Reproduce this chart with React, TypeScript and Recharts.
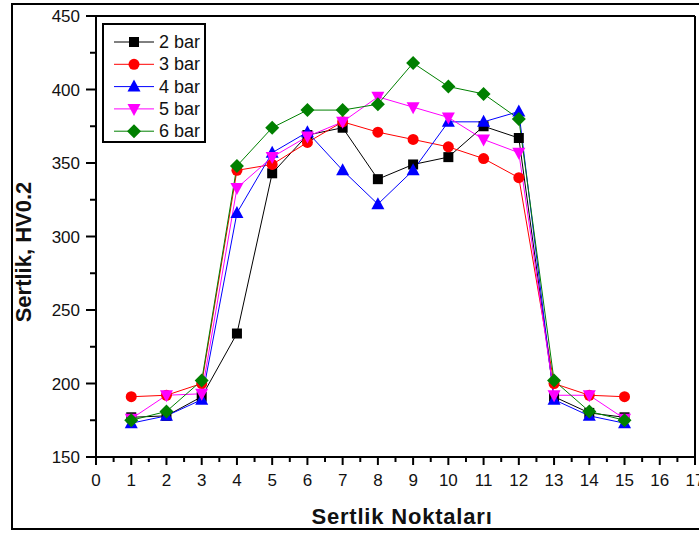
import React from 'react'
import { LineChart, Line, XAxis, YAxis, ReferenceLine } from 'recharts'

const points = [1, 2, 3, 4, 5, 6, 7, 8, 9, 10, 11, 12, 13, 14, 15]
const bar2 = [177, 178, 191, 234, 343, 369, 374, 339, 349, 354, 375, 367, 191, 180, 177]
const bar3 = [191, 192, 200, 345, 349, 364, 378, 371, 366, 361, 353, 340, 200, 192, 191]
const bar4 = [173, 178, 189, 316, 357, 371, 345, 322, 345, 378, 378, 385, 189, 178, 173]
const bar5 = [176, 192, 193, 333, 354, 368, 378, 395, 388, 381, 366, 357, 192, 192, 176]
const bar6 = [175, 181, 202, 348, 374, 386, 386, 390, 418, 402, 397, 380, 202, 181, 175]

const xTicks = Array.from({ length: 35 }, (_, i) => i / 2)
const yTicks = [150, 175, 200, 225, 250, 275, 300, 325, 350, 375, 400, 425, 450]

const FONT = '"Liberation Sans", Arial, sans-serif'

type Shape = 'square' | 'circle' | 'up' | 'down' | 'diamond'

const seriesList: { key: string; name: string; color: string; shape: Shape; values: number[] }[] = [
  { key: 'b2', name: '2 bar', color: '#000000', shape: 'square', values: bar2 },
  { key: 'b3', name: '3 bar', color: '#ff0000', shape: 'circle', values: bar3 },
  { key: 'b4', name: '4 bar', color: '#0000ff', shape: 'up', values: bar4 },
  { key: 'b5', name: '5 bar', color: '#ff00ff', shape: 'down', values: bar5 },
  { key: 'b6', name: '6 bar', color: '#008000', shape: 'diamond', values: bar6 },
]

const data = points.map((p, i) => {
  const row: Record<string, number> = { x: p }
  seriesList.forEach((s) => {
    row[s.key] = s.values[i]
  })
  return row
})

function Marker({ cx, cy, shape, color }: { cx: number; cy: number; shape: Shape; color: string }) {
  if (shape === 'square') return <rect x={cx - 5} y={cy - 5} width={10} height={10} fill={color} />
  if (shape === 'circle') return <circle cx={cx} cy={cy} r={5.5} fill={color} />
  if (shape === 'up')
    return <path d={`M${cx},${cy - 7} L${cx + 6.5},${cy + 5} L${cx - 6.5},${cy + 5} Z`} fill={color} />
  if (shape === 'down')
    return <path d={`M${cx},${cy + 7} L${cx + 6.5},${cy - 5} L${cx - 6.5},${cy - 5} Z`} fill={color} />
  return <path d={`M${cx},${cy - 7} L${cx + 7},${cy} L${cx},${cy + 7} L${cx - 7},${cy} Z`} fill={color} />
}

function XTick(props: any) {
  const { x, y, payload } = props
  const v = payload.value
  const major = Number.isInteger(v)
  return (
    <g>
      <line x1={x} y1={y} x2={x} y2={y + (major ? 8 : 5)} stroke="#000" strokeWidth={2} />
      {major && (
        <text x={x} y={y + 29} textAnchor="middle" fontSize={17} fill="#111" fontFamily={FONT}>
          {v}
        </text>
      )}
    </g>
  )
}

function YTick(props: any) {
  const { x, y, payload } = props
  const v = payload.value
  const major = v % 50 === 0
  return (
    <g>
      <line x1={x - (major ? 10 : 6)} y1={y} x2={x} y2={y} stroke="#000" strokeWidth={2} />
      {major && (
        <text x={x - 16} y={y + 6} textAnchor="end" fontSize={17} fill="#111" fontFamily={FONT}>
          {v}
        </text>
      )}
    </g>
  )
}

function LegendBox() {
  return (
    <div
      style={{
        position: 'absolute',
        left: 102,
        top: 23,
        width: 104,
        height: 120,
        border: '2px solid #000',
        background: '#fff',
        boxSizing: 'border-box',
      }}
    >
      <svg width={100} height={116} style={{ display: 'block' }}>
        {seriesList.map((s, i) => {
          const y = 17 + i * 22.3
          return (
            <g key={s.key}>
              <line x1={10} y1={y} x2={50} y2={y} stroke={s.color} strokeWidth={1} />
              <Marker cx={30} cy={y} shape={s.shape} color={s.color} />
              <text x={55} y={y + 6} fontSize={18} fill="#111" fontFamily={FONT}>
                {s.name}
              </text>
            </g>
          )
        })}
      </svg>
    </div>
  )
}

export default function App() {
  return (
    <div style={{ position: 'absolute', left: 0, top: 0, width: 699, height: 534, background: '#fff', overflow: 'hidden' }}>
      <div
        style={{
          position: 'absolute',
          left: 11,
          top: 3,
          width: 720,
          height: 527,
          border: '2px solid #000',
          boxSizing: 'border-box',
        }}
      />
      <div style={{ position: 'absolute', left: 0, top: 0 }}>
        <LineChart width={699} height={534} data={data} margin={{ top: 16, right: 4, bottom: 37, left: 0 }}>
          <XAxis
            dataKey="x"
            type="number"
            domain={[0, 17]}
            ticks={xTicks}
            interval={0}
            tick={<XTick />}
            tickLine={false}
            tickSize={0}
            tickMargin={0}
            height={40}
            axisLine={{ stroke: '#000', strokeWidth: 2 }}
          />
          <YAxis
            type="number"
            domain={[150, 450]}
            ticks={yTicks}
            interval={0}
            tick={<YTick />}
            tickLine={false}
            tickSize={0}
            tickMargin={0}
            width={96}
            axisLine={{ stroke: '#000', strokeWidth: 2 }}
          />
          <ReferenceLine y={450} stroke="#000" strokeWidth={2} />
          <ReferenceLine x={17} stroke="#000" strokeWidth={2} />
          {seriesList.map((s) => (
            <Line
              key={s.key}
              dataKey={s.key}
              name={s.name}
              stroke={s.color}
              strokeWidth={1}
              isAnimationActive={false}
              dot={(p: any) => (
                <Marker key={`${s.key}-${p.index}`} cx={p.cx} cy={p.cy} shape={s.shape} color={s.color} />
              )}
              activeDot={false}
            />
          ))}
        </LineChart>
      </div>
      <LegendBox />
      <div
        style={{
          position: 'absolute',
          left: 24,
          top: 252,
          transform: 'translate(-50%, -50%) rotate(-90deg)',
          whiteSpace: 'nowrap',
          fontFamily: FONT,
          fontWeight: 'bold',
          fontSize: 22,
          color: '#111',
        }}
      >
        Sertlik, HV0.2
      </div>
      <div
        style={{
          position: 'absolute',
          left: 402,
          top: 517,
          transform: 'translate(-50%, -50%)',
          whiteSpace: 'nowrap',
          fontFamily: FONT,
          fontWeight: 'bold',
          fontSize: 22,
          letterSpacing: 0.8,
          color: '#111',
        }}
      >
        Sertlik Noktaları
      </div>
    </div>
  )
}
